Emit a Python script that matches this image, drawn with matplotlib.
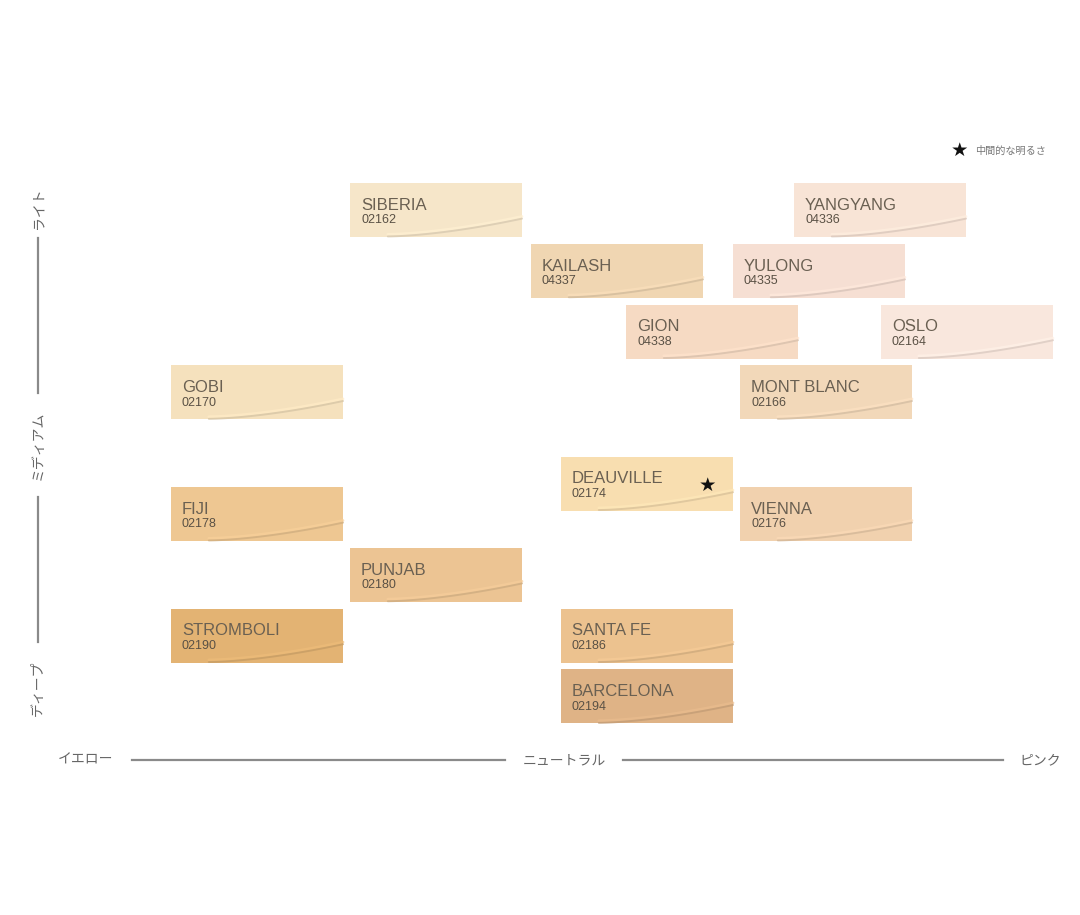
import numpy as np
import matplotlib
matplotlib.use("Agg")
import matplotlib.pyplot as plt
from matplotlib.patches import Rectangle
from matplotlib.colors import to_rgb

plt.rcParams['font.family'] = ['Noto Sans CJK JP', 'DejaVu Sans']

# shade data: name, code, undertone (yellow -> pink), depth row (light -> deep)
names = ["SIBERIA", "YANGYANG", "KAILASH", "YULONG", "GION", "OSLO", "GOBI",
         "MONT BLANC", "DEAUVILLE", "FIJI", "VIENNA", "PUNJAB", "STROMBOLI",
         "SANTA FE", "BARCELONA"]
codes = ["02162", "04336", "04337", "04335", "04338", "02164", "02170",
         "02166", "02174", "02178", "02176", "02180", "02190", "02186", "02194"]
undertone = [436, 880, 617, 819, 712, 967, 257, 826, 647, 257, 826, 436, 257, 647, 647]
depth = [0, 0, 1, 1, 2, 2, 3, 3, 4.5, 5, 5, 6, 7, 7, 8]
colors = ["#F6E6C9", "#F8E4D6", "#F0D6B2", "#F6DFD3", "#F6DAC3", "#F9E7DD",
          "#F5E1BD", "#F2D8B9", "#F8DEB0", "#EEC792", "#F1D1AE", "#ECC493",
          "#E3B373", "#ECC28F", "#DFB386"]
highlight = "DEAUVILLE"

y_labels = ["ライト", "ミディアム", "ディープ"]
x_labels = ["イエロー", "ニュートラル", "ピンク"]
legend_text = "中間的な明るさ"

fig = plt.figure(figsize=(10.8, 9.15), dpi=100)
ax = fig.add_axes([0, 0, 1, 1])
ax.set_xlim(0, 1080)
row_px = 60.8
ax.set_ylim((915 - 183) / row_px, -183 / row_px)
ax.axis('off')

w = 172
h = 54 / row_px
t = np.linspace(0, 1, 60)
for n, c, u, d, col in zip(names, codes, undertone, depth, colors):
    x0 = u - w / 2
    ax.add_patch(Rectangle((x0, d), w, h, facecolor=col, edgecolor='none'))
    # brush stroke inside swatch
    rgb = np.array(to_rgb(col))
    cx = x0 + w * (0.22 + 0.78 * t)
    cy = d + h * (0.95 - 0.33 * t ** 1.6)
    ax.plot(cx, cy, color=np.clip(rgb * 1.02 + 0.02, 0, 1), lw=2.0, alpha=0.7,
            solid_capstyle='round')
    ax.plot(cx, cy + 0.035, color=rgb * 0.87, lw=1.4, alpha=0.75, solid_capstyle='round')
    ax.text(x0 + 11, d + 0.44, n, fontsize=12, color='#6a6052',
            family=['Liberation Sans', 'DejaVu Sans'], va='baseline')
    ax.text(x0 + 11, d + 0.66, c, fontsize=9, color='#5a5145',
            family=['Liberation Sans', 'DejaVu Sans'], va='baseline')
    if n == highlight:
        ax.text(x0 + w - 26, d + 0.47, '★', fontsize=14, color='#111111',
                ha='center', va='center', family='DejaVu Sans')


def py(p):
    return (p - 183) / row_px


# legend
ax.text(959, py(150), '★', fontsize=14, color='#111111',
        ha='center', va='center', family='DejaVu Sans')
ax.text(975, py(151), legend_text, fontsize=7.3, color='#777777',
        ha='left', va='center')

axis_col = '#8a8a8a'

# vertical axis (light -> deep)
ax.text(38, py(208), y_labels[0], rotation=90, fontsize=10, color='#666666', ha='center', va='center')
ax.text(38, py(445), y_labels[1], rotation=90, fontsize=10, color='#666666', ha='center', va='center')
ax.text(38, py(688), y_labels[2], rotation=90, fontsize=10, color='#666666', ha='center', va='center')
ax.plot([38, 38], [py(238), py(393)], color=axis_col, lw=1.6)
ax.plot([38, 38], [py(497), py(642)], color=axis_col, lw=1.6)

# horizontal axis (yellow -> pink)
ax.text(86, py(760), x_labels[0], fontsize=10, color='#666666', ha='center', va='center')
ax.text(564, py(760), x_labels[1], fontsize=10, color='#666666', ha='center', va='center')
ax.text(1040, py(760), x_labels[2], fontsize=10, color='#666666', ha='center', va='center')
ax.plot([132, 505], [py(760), py(760)], color=axis_col, lw=1.6)
ax.plot([623, 1003], [py(760), py(760)], color=axis_col, lw=1.6)

fig.savefig("out.png", dpi=100, facecolor='white')
